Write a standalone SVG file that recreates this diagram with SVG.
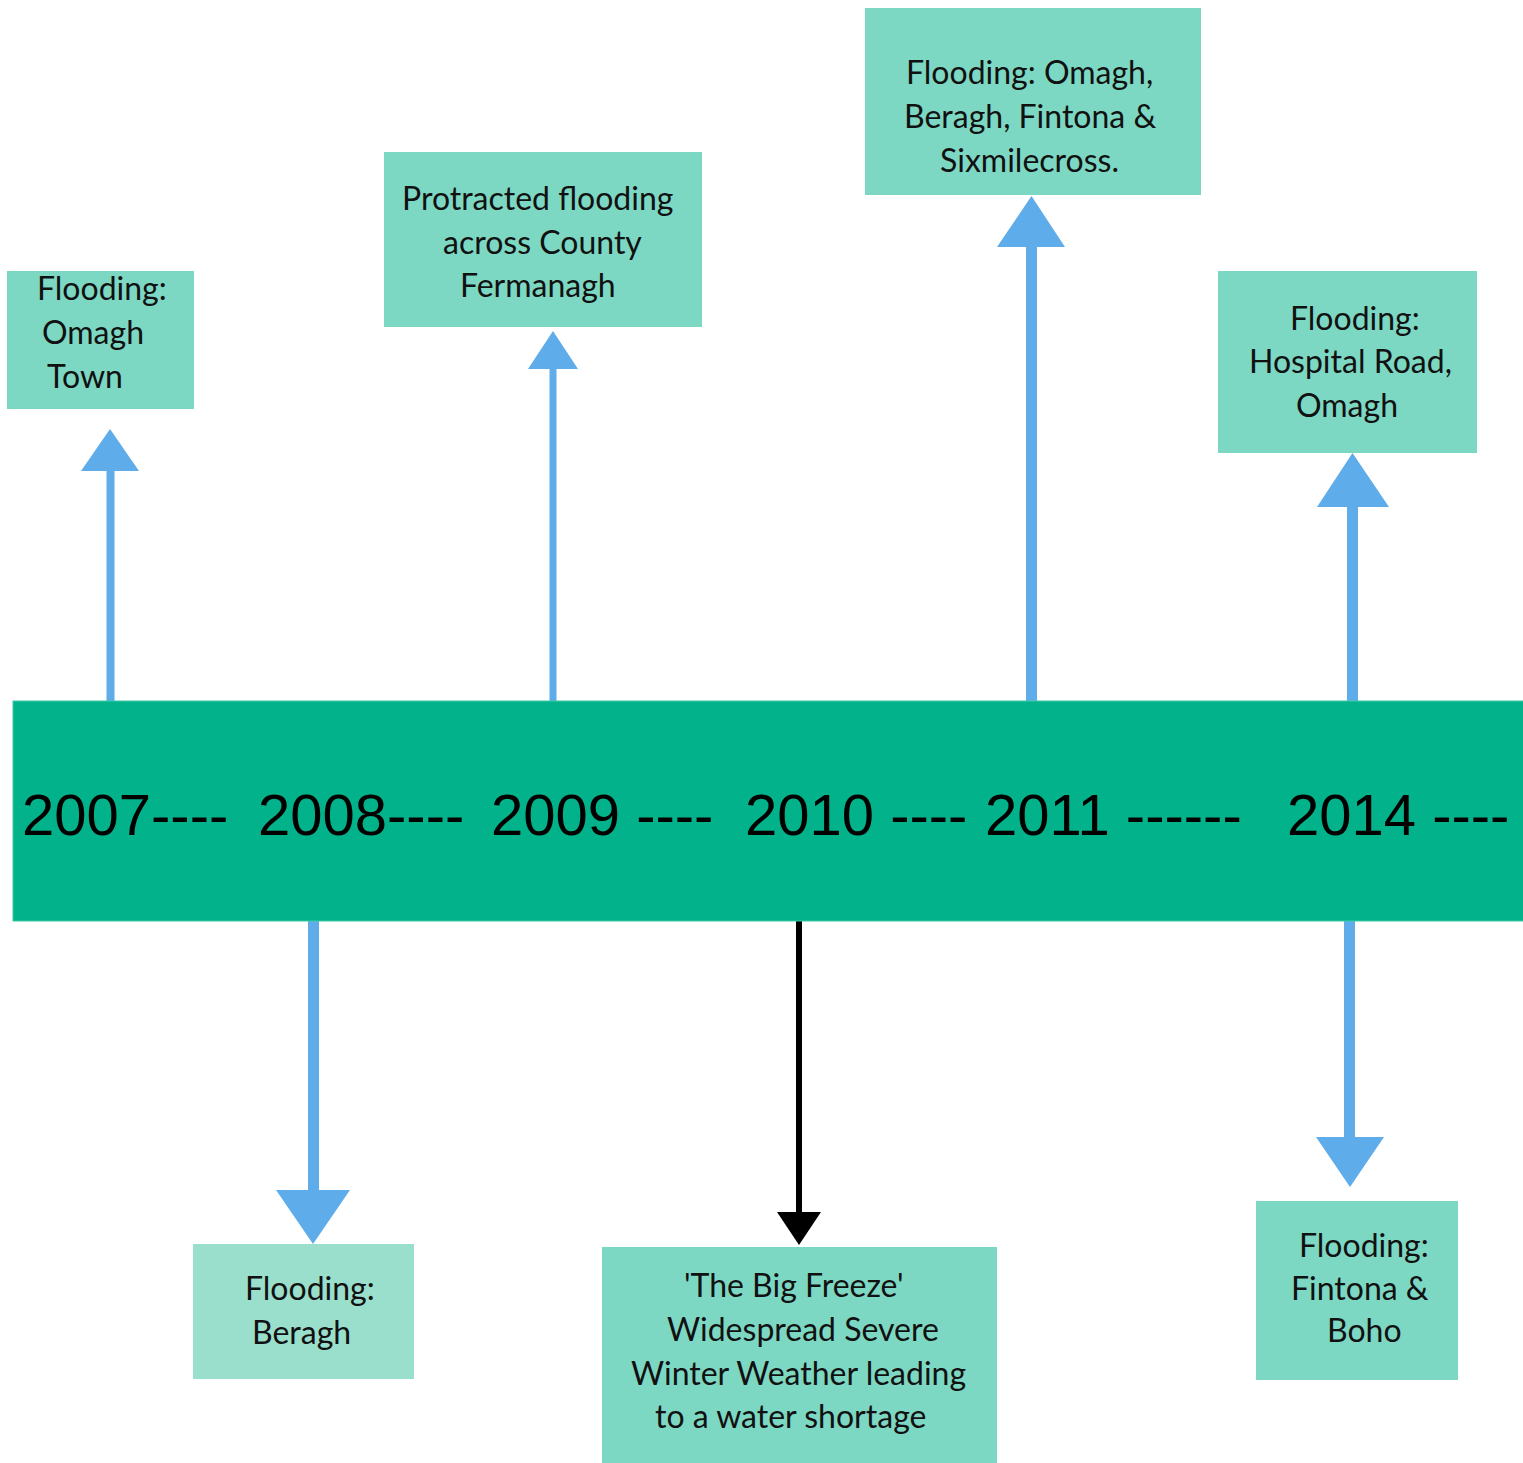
<svg xmlns="http://www.w3.org/2000/svg" width="1523" height="1463" viewBox="0 0 1523 1463">
<style>
.box{fill:#7DD8C3}
.box-light{fill:#99DFCC}
.lbl{font-family:Lato,"Noto Sans",sans-serif;font-size:32px;fill:#111}
.year{font-family:"Liberation Sans",Arial,sans-serif;font-size:58px;fill:#000}
.ln{stroke:#5FACEA;fill:none}
.hd{fill:#5FACEA}
</style>
<defs>
<clipPath id="clip2011"><rect x="980" y="760" width="262" height="100"/></clipPath>
</defs>
<rect width="1523" height="1463" fill="#fff"/>
<g id="connectors">
<line class="ln" x1="110.5" y1="705" x2="110.5" y2="470" stroke-width="8"/>
<polygon class="hd" points="81,471 139,471 110,429"/>
<line class="ln" x1="553" y1="705" x2="553" y2="368" stroke-width="7"/>
<polygon class="hd" points="528,369 578,369 553,331"/>
<line class="ln" x1="1031.5" y1="705" x2="1031.5" y2="246" stroke-width="11"/>
<polygon class="hd" points="997,247 1065,247 1031.5,196"/>
<line class="ln" x1="1352.5" y1="705" x2="1352.5" y2="506" stroke-width="11"/>
<polygon class="hd" points="1317,507 1389,507 1352.5,453"/>
<line class="ln" x1="313.5" y1="915" x2="313.5" y2="1191" stroke-width="11"/>
<polygon class="hd" points="276,1190 350,1190 313,1244"/>
<line x1="799" y1="915" x2="799" y2="1213" stroke="#000" stroke-width="6"/>
<polygon fill="#000" points="777,1212 821,1212 799,1245"/>
<line class="ln" x1="1349.5" y1="915" x2="1349.5" y2="1138" stroke-width="11"/>
<polygon class="hd" points="1316,1137 1384,1137 1350,1187"/>
</g>
<g id="timeline">
<rect x="13" y="701" width="1512" height="220" fill="#02B28A" stroke="#3FC9A8" stroke-width="1"/>
<text class="year" y="835"><tspan x="22">2007----</tspan><tspan x="258">2008----</tspan><tspan x="491">2009 ----</tspan><tspan x="745">2010 ----</tspan><tspan x="1287">2014 ----</tspan></text>
<text class="year" y="835" clip-path="url(#clip2011)"><tspan x="985">2011 ------</tspan></text>
</g>
<g id="node-2007">
<rect class="box" x="7" y="271" width="187" height="138"/>
<text class="lbl"><tspan x="37" y="300">Flooding:</tspan><tspan x="42" y="344">Omagh</tspan><tspan x="47" y="388">Town</tspan></text>
</g>
<g id="node-2009">
<rect class="box" x="384" y="152" width="318" height="175"/>
<text class="lbl"><tspan x="402" y="210">Protracted flooding</tspan><tspan x="443" y="254">across County</tspan><tspan x="460" y="297">Fermanagh</tspan></text>
</g>
<g id="node-2011">
<rect class="box" x="865" y="8" width="336" height="187"/>
<text class="lbl"><tspan x="906" y="84">Flooding: Omagh,</tspan><tspan x="904" y="128">Beragh, Fintona &amp;</tspan><tspan x="940" y="172">Sixmilecross.</tspan></text>
</g>
<g id="node-2014-up">
<rect class="box" x="1218" y="271" width="259" height="182"/>
<text class="lbl"><tspan x="1290" y="330">Flooding:</tspan><tspan x="1249" y="373">Hospital Road,</tspan><tspan x="1296" y="417">Omagh</tspan></text>
</g>
<g id="node-2008">
<rect class="box-light" x="193" y="1244" width="221" height="135"/>
<text class="lbl"><tspan x="245" y="1300">Flooding:</tspan><tspan x="252" y="1344">Beragh</tspan></text>
</g>
<g id="node-2010">
<rect class="box" x="602" y="1247" width="395" height="216"/>
<text class="lbl"><tspan x="684" y="1297">'The Big Freeze'</tspan><tspan x="667" y="1341">Widespread Severe</tspan><tspan x="631" y="1385">Winter Weather leading</tspan><tspan x="655" y="1428">to a water shortage</tspan></text>
</g>
<g id="node-2014-down">
<rect class="box" x="1256" y="1201" width="202" height="179"/>
<text class="lbl"><tspan x="1299" y="1257">Flooding:</tspan><tspan x="1291" y="1300">Fintona &amp;</tspan><tspan x="1327" y="1342">Boho</tspan></text>
</g>
</svg>
